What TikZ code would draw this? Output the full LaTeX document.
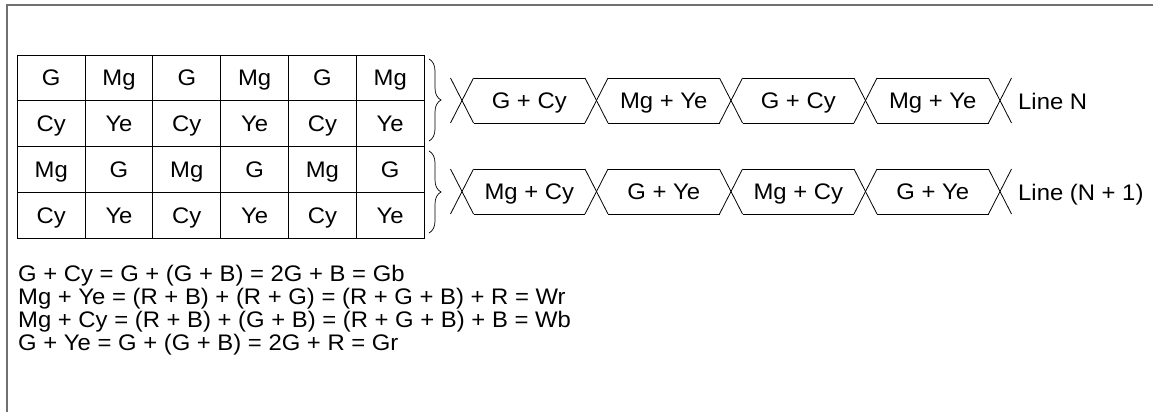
\documentclass[tikz,border=0pt]{standalone}
\usepackage{fontspec}
\setmainfont{Liberation Sans}[FakeStretch=1.06]
\usetikzlibrary{decorations.pathreplacing}
\definecolor{bordergray}{HTML}{707070}
\begin{document}
\begin{tikzpicture}[x=1pt,y=-1pt,
  font=\fontsize{22.5}{26}\selectfont,
  cell/.style={draw, line width=0.9pt, minimum width=67.8pt, minimum height=45.75pt, inner sep=0pt, outer sep=0pt, text height=16.1pt, text depth=0pt},
  wave/.style={line width=0.8pt},
  lbl/.style={inner sep=0pt, text height=16.1pt, text depth=0pt},
  eqn/.style={anchor=base west, inner sep=0pt},
  bracestyle/.style={decorate, decoration={brace, amplitude=12pt}, line width=0.7pt}]
\useasboundingbox (0,0) rectangle (1153,412);
% border
\draw[bordergray, line width=2pt] (6.5,412) -- (6.5,5.5) -- (1153,5.5);
% pixel table
\foreach [count=\c] \t in {G,Mg,G,Mg,G,Mg}
  \node[cell] (r1c\c) at ({17.3+67.8*(\c-0.5)},77.9) {\t};
\foreach [count=\c] \t in {Cy,Ye,Cy,Ye,Cy,Ye}
  \node[cell] (r2c\c) at ({17.3+67.8*(\c-0.5)},123.6) {\t};
\foreach [count=\c] \t in {Mg,G,Mg,G,Mg,G}
  \node[cell] (r3c\c) at ({17.3+67.8*(\c-0.5)},169.4) {\t};
\foreach [count=\c] \t in {Cy,Ye,Cy,Ye,Cy,Ye}
  \node[cell] (r4c\c) at ({17.3+67.8*(\c-0.5)},215.1) {\t};
% braces
\coordinate (b1t) at (429,59);
\coordinate (b1b) at (429,141);
\coordinate (b2t) at (429,151);
\coordinate (b2b) at (429,233);
\draw[bracestyle] (b1t) -- (b1b);
\draw[bracestyle] (b2t) -- (b2b);
% waveforms
\foreach \T/\B in {78/123, 169/214} {
  \foreach \x in {462,596.5,731,865.5,1000} {
    \draw[wave] ({\x-11.5},\T) -- ({\x+11.5},\B);
    \draw[wave] ({\x-11.5},\B) -- ({\x+11.5},\T);
  }
  \foreach \a/\b in {462/596.5,596.5/731,731/865.5,865.5/1000} {
    \draw[wave] ({\a+11.5},\T) -- ({\b-11.5},\T);
    \draw[wave] ({\a+11.5},\B) -- ({\b-11.5},\B);
  }
}
\node[lbl] (w1a) at (529.25,100.5) {G + Cy};
\node[lbl] (w1b) at (663.75,100.5) {Mg + Ye};
\node[lbl] (w1c) at (798.25,100.5) {G + Cy};
\node[lbl] (w1d) at (932.75,100.5) {Mg + Ye};
\node[lbl] (w2a) at (529.25,191.5) {Mg + Cy};
\node[lbl] (w2b) at (663.75,191.5) {G + Ye};
\node[lbl] (w2c) at (798.25,191.5) {Mg + Cy};
\node[lbl] (w2d) at (932.75,191.5) {G + Ye};
\node[lbl, anchor=west] (lineN) at (1018,101) {Line N};
\node[lbl, anchor=west] (lineN1) at (1018,192) {Line (N + 1)};
% equations
\node[eqn] (eq1) at (18,281) {G + Cy = G + (G + B) = 2G + B = Gb};
\node[eqn] (eq2) at (18,304) {Mg + Ye = (R + B) + (R + G) = (R + G + B) + R = Wr};
\node[eqn] (eq3) at (18,327) {Mg + Cy = (R + B) + (G + B) = (R + G + B) + B = Wb};
\node[eqn] (eq4) at (18,350) {G + Ye = G + (G + B) = 2G + R = Gr};
\end{tikzpicture}
\end{document}
